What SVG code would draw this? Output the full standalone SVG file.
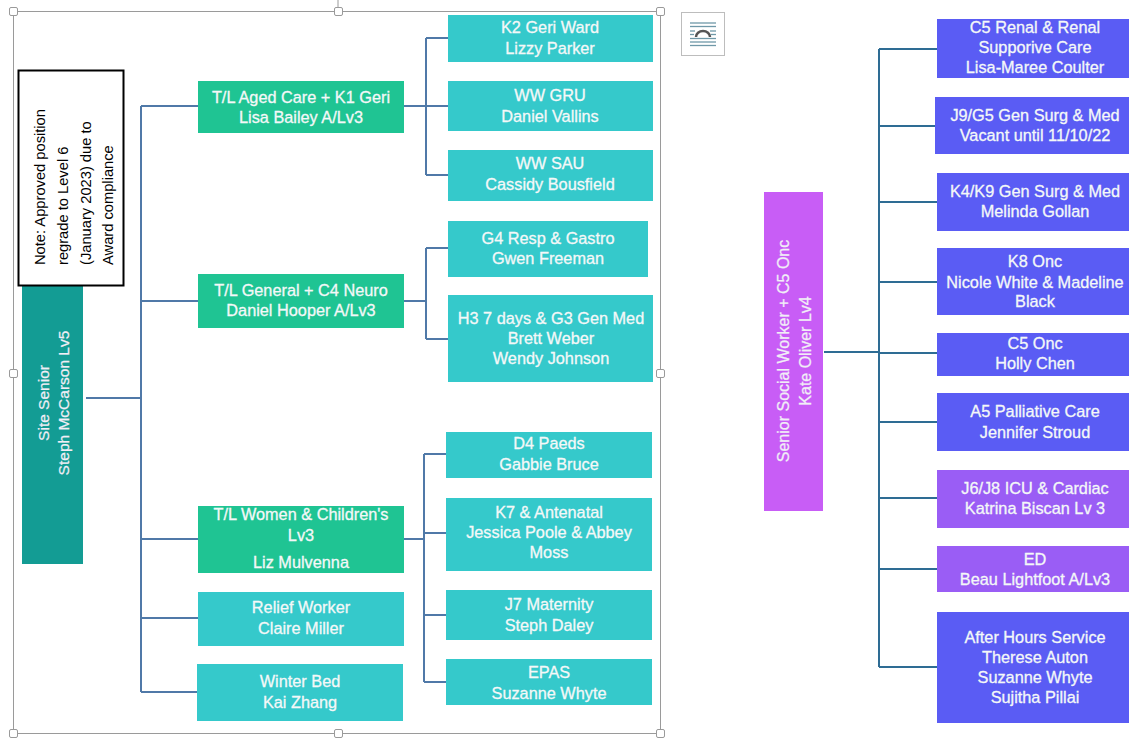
<svg xmlns="http://www.w3.org/2000/svg" width="1129" height="738" viewBox="0 0 1129 738">
<style>
  .t { font-family: "Liberation Sans", Arial, sans-serif; font-size: 16.3px; fill: #F4F8F8; stroke: #F4F8F8; stroke-width: 0.3; text-anchor: middle; }
  .rt { font-family: "Liberation Sans", Arial, sans-serif; fill: #F1EEF6; stroke: #F1EEF6; stroke-width: 0.25; text-anchor: middle; }
  .note { font-family: "Liberation Sans", Arial, sans-serif; font-size: 14.7px; fill: #000; }
  .teal { fill: #139C94; }
  .green { fill: #1FC493; }
  .cyan { fill: #35C9CB; }
  .blue { fill: #5A5CF4; }
  .violet { fill: #9A5DF5; }
  .purple { fill: #C85DF6; }
  .cl { stroke: #5079A8; stroke-width: 2; fill: none; }
  .cr { stroke: #2E6C94; stroke-width: 2; fill: none; }
  .handle { fill: #fff; stroke: #9a9a9a; stroke-width: 1; }
</style>
<rect x="0" y="0" width="1129" height="738" fill="#ffffff"/>

<!-- selection frame -->
<g id="selection-frame">
  <line x1="338" y1="0" x2="338" y2="8" stroke="#9a9a9a" stroke-width="1"/>
  <rect x="13.5" y="11.5" width="647" height="722" fill="none" stroke="#9a9a9a" stroke-width="1"/>
  <rect class="handle" x="9.5" y="7.5" width="8" height="8" rx="1.5"/>
  <rect class="handle" x="334.5" y="7.5" width="8" height="8" rx="1.5"/>
  <rect class="handle" x="656.5" y="7.5" width="8" height="8" rx="1.5"/>
  <rect class="handle" x="9.5" y="369.5" width="8" height="8" rx="1.5"/>
  <rect class="handle" x="656.5" y="369.5" width="8" height="8" rx="1.5"/>
  <rect class="handle" x="9.5" y="729.5" width="8" height="8" rx="1.5"/>
  <rect class="handle" x="334.5" y="729.5" width="8" height="8" rx="1.5"/>
  <rect class="handle" x="656.5" y="729.5" width="8" height="8" rx="1.5"/>
</g>

<g id="layout-icon">
  <rect x="681.5" y="12.5" width="43" height="43" fill="#fff" stroke="#bdbdbd" stroke-width="1"/>
  <g stroke="#6F98A8" stroke-width="1.3">
    <line x1="690" y1="23" x2="716" y2="23"/>
    <line x1="690" y1="26.5" x2="716" y2="26.5"/>
    <line x1="690" y1="31" x2="695" y2="31"/>
    <line x1="710" y1="31" x2="716" y2="31"/>
    <line x1="690" y1="34.5" x2="694" y2="34.5"/>
    <line x1="711" y1="34.5" x2="716" y2="34.5"/>
    <line x1="690" y1="38.5" x2="716" y2="38.5"/>
    <line x1="690" y1="42" x2="716" y2="42"/>
    <line x1="690" y1="45.5" x2="716" y2="45.5"/>
  </g>
  <path d="M696,37 A7,6 0 0 1 710,37" fill="none" stroke="#555" stroke-width="2.5"/>
</g>

<!-- connectors -->
<g id="connectors">
  <path class="cl" d="M86,398 H141 M141,106 V692 M141,106 H198 M141,301 H198 M141,539 H198 M141,618 H198 M141,692 H197"/>
  <path class="cl" d="M404,106 H426 M426,38 V175 M426,38 H448 M426,106 H448 M426,175 H448"/>
  <path class="cl" d="M404,301 H426 M426,248 V339 M426,248 H448 M426,339 H448"/>
  <path class="cl" d="M404,539 H424 M424,454 V682 M424,454 H446 M424,533 H446 M424,615 H446 M424,682 H446"/>
  <path class="cr" d="M824,352 H879 M879,49 V667 M879,49 H937 M879,126 H937 M879,202 H937 M879,282 H937 M879,353 H937 M879,422 H937 M879,498 H937 M879,569 H937 M879,667 H937"/>
</g>

<!-- left tree -->
<g id="site-senior">
  <rect class="teal" x="22" y="240" width="61" height="324"/>
  <g transform="translate(48.5,403) rotate(-90)"><text class="rt" x="0" y="0" font-size="15.5">Site Senior</text></g>
  <g transform="translate(68.5,403) rotate(-90)"><text class="rt" x="0" y="0" font-size="15.5">Steph McCarson Lv5</text></g>
</g>

<g id="note">
  <rect x="18.5" y="70.5" width="105" height="215" fill="#fff" stroke="#000" stroke-width="2"/>
  <g transform="translate(45,265) rotate(-90)"><text class="note" x="0" y="0">Note: Approved position</text></g>
  <g transform="translate(68,265) rotate(-90)"><text class="note" x="0" y="0">regrade to Level 6</text></g>
  <g transform="translate(91,265) rotate(-90)"><text class="note" x="0" y="0">(January 2023) due to</text></g>
  <g transform="translate(113,265) rotate(-90)"><text class="note" x="0" y="0">Award compliance</text></g>
</g>

<g id="tl-aged-care">
  <rect class="green" x="198" y="81" width="206" height="52"/>
  <text class="t" x="301" y="103">T/L Aged Care + K1 Geri</text>
  <text class="t" x="301" y="123">Lisa Bailey A/Lv3</text>
</g>
<g id="tl-general">
  <rect class="green" x="198" y="274" width="206" height="54"/>
  <text class="t" x="301" y="296">T/L General + C4 Neuro</text>
  <text class="t" x="301" y="316">Daniel Hooper A/Lv3</text>
</g>
<g id="tl-women">
  <rect class="green" x="198" y="506" width="206" height="67"/>
  <text class="t" x="301" y="520">T/L Women &amp; Children's</text>
  <text class="t" x="301" y="541">Lv3</text>
  <text class="t" x="301" y="568">Liz Mulvenna</text>
</g>
<g id="relief-worker">
  <rect class="cyan" x="198" y="592" width="206" height="54"/>
  <text class="t" x="301" y="613">Relief Worker</text>
  <text class="t" x="301" y="634">Claire Miller</text>
</g>
<g id="winter-bed">
  <rect class="cyan" x="197" y="664" width="206" height="57"/>
  <text class="t" x="300" y="687">Winter Bed</text>
  <text class="t" x="300" y="708">Kai Zhang</text>
</g>

<g id="k2-geri">
  <rect class="cyan" x="448" y="15" width="205" height="47"/>
  <text class="t" x="550" y="33">K2 Geri Ward</text>
  <text class="t" x="550" y="54">Lizzy Parker</text>
</g>
<g id="ww-gru">
  <rect class="cyan" x="448" y="81" width="205" height="50"/>
  <text class="t" x="550" y="101">WW GRU</text>
  <text class="t" x="550" y="122">Daniel Vallins</text>
</g>
<g id="ww-sau">
  <rect class="cyan" x="448" y="150" width="205" height="51"/>
  <text class="t" x="550" y="169">WW SAU</text>
  <text class="t" x="550" y="190">Cassidy Bousfield</text>
</g>
<g id="g4-resp">
  <rect class="cyan" x="448" y="221" width="200" height="56"/>
  <text class="t" x="548" y="244">G4 Resp &amp; Gastro</text>
  <text class="t" x="548" y="264">Gwen Freeman</text>
</g>
<g id="h3-gen-med">
  <rect class="cyan" x="448" y="295" width="205" height="87"/>
  <text class="t" x="551" y="324">H3 7 days &amp; G3 Gen Med</text>
  <text class="t" x="551" y="344">Brett Weber</text>
  <text class="t" x="551" y="364">Wendy Johnson</text>
</g>
<g id="d4-paeds">
  <rect class="cyan" x="446" y="432" width="206" height="46"/>
  <text class="t" x="549" y="449">D4 Paeds</text>
  <text class="t" x="549" y="470">Gabbie Bruce</text>
</g>
<g id="k7-antenatal">
  <rect class="cyan" x="446" y="498" width="206" height="73"/>
  <text class="t" x="549" y="518">K7 &amp; Antenatal</text>
  <text class="t" x="549" y="538">Jessica Poole &amp; Abbey</text>
  <text class="t" x="549" y="558">Moss</text>
</g>
<g id="j7-maternity">
  <rect class="cyan" x="446" y="590" width="206" height="50"/>
  <text class="t" x="549" y="610">J7 Maternity</text>
  <text class="t" x="549" y="631">Steph Daley</text>
</g>
<g id="epas">
  <rect class="cyan" x="446" y="659" width="206" height="46"/>
  <text class="t" x="549" y="678">EPAS</text>
  <text class="t" x="549" y="699">Suzanne Whyte</text>
</g>

<!-- right tree -->
<g id="senior-social-worker">
  <rect class="purple" x="764" y="192" width="59" height="319"/>
  <g transform="translate(788.5,351) rotate(-90)"><text class="rt" x="0" y="0" font-size="16">Senior Social Worker + C5 Onc</text></g>
  <g transform="translate(810.5,351) rotate(-90)"><text class="rt" x="0" y="0" font-size="16">Kate Oliver Lv4</text></g>
</g>

<g id="c5-renal">
  <rect class="blue" x="937" y="19" width="194" height="59"/>
  <text class="t" x="1035" y="33">C5 Renal &amp; Renal</text>
  <text class="t" x="1035" y="53">Supporive Care</text>
  <text class="t" x="1035" y="73">Lisa-Maree Coulter</text>
</g>
<g id="j9-g5">
  <rect class="blue" x="935" y="97" width="196" height="57"/>
  <text class="t" x="1035" y="121">J9/G5 Gen Surg &amp; Med</text>
  <text class="t" x="1035" y="141">Vacant until 11/10/22</text>
</g>
<g id="k4-k9">
  <rect class="blue" x="937" y="173" width="194" height="58"/>
  <text class="t" x="1035" y="197">K4/K9 Gen Surg &amp; Med</text>
  <text class="t" x="1035" y="217">Melinda Gollan</text>
</g>
<g id="k8-onc">
  <rect class="blue" x="937" y="248" width="194" height="67"/>
  <text class="t" x="1035" y="267">K8 Onc</text>
  <text class="t" x="1035" y="288">Nicole White &amp; Madeline</text>
  <text class="t" x="1035" y="307">Black</text>
</g>
<g id="c5-onc">
  <rect class="blue" x="937" y="333" width="194" height="43"/>
  <text class="t" x="1035" y="349">C5 Onc</text>
  <text class="t" x="1035" y="369">Holly Chen</text>
</g>
<g id="a5-palliative">
  <rect class="blue" x="937" y="393" width="194" height="58"/>
  <text class="t" x="1035" y="417">A5 Palliative Care</text>
  <text class="t" x="1035" y="438">Jennifer Stroud</text>
</g>
<g id="j6-j8-icu">
  <rect class="violet" x="937" y="470" width="194" height="58"/>
  <text class="t" x="1035" y="494">J6/J8 ICU &amp; Cardiac</text>
  <text class="t" x="1035" y="514">Katrina Biscan Lv 3</text>
</g>
<g id="ed">
  <rect class="violet" x="937" y="546" width="194" height="46"/>
  <text class="t" x="1035" y="565">ED</text>
  <text class="t" x="1035" y="585">Beau Lightfoot A/Lv3</text>
</g>
<g id="after-hours">
  <rect class="blue" x="937" y="612" width="194" height="111"/>
  <text class="t" x="1035" y="643">After Hours Service</text>
  <text class="t" x="1035" y="663">Therese Auton</text>
  <text class="t" x="1035" y="683">Suzanne Whyte</text>
  <text class="t" x="1035" y="703">Sujitha Pillai</text>
</g>
</svg>
